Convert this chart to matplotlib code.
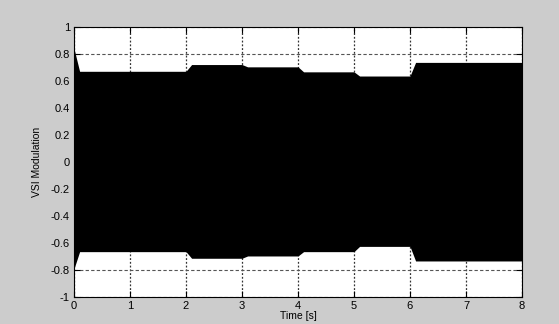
"""VSI modulation index envelope vs. time."""
import matplotlib
matplotlib.use('Agg')
import matplotlib.pyplot as plt

plt.rcParams['font.family'] = ['Liberation Sans', 'DejaVu Sans']

# envelope of the (very fast) modulation signal
t_pts  = [0.0, 0.10, 2.0, 2.10, 3.0, 3.10, 4.0, 4.10, 5.0, 5.10, 6.0, 6.10, 8.0]
upper  = [0.84, 0.672, 0.672, 0.722, 0.722, 0.705, 0.705, 0.668, 0.668, 0.637, 0.637, 0.738, 0.738]
lower  = [-0.79, -0.664, -0.664, -0.713, -0.713, -0.696, -0.696, -0.664, -0.664, -0.625, -0.625, -0.733, -0.733]

x_ticks = [0, 1, 2, 3, 4, 5, 6, 7, 8]
y_ticks = [-1, -0.8, -0.6, -0.4, -0.2, 0, 0.2, 0.4, 0.6, 0.8, 1]
y_labels = ['-1', '-0.8', '-0.6', '-0.4', '-0.2', '0', '0.2', '0.4', '0.6', '0.8', '1']

BG = '#cccccc'

fig = plt.figure(figsize=(5.59, 3.24), dpi=100)
fig.set_facecolor(BG)
ax = fig.add_axes([0.1324, 0.0833, 0.8014, 0.8333])
ax.set_facecolor('white')

ax.fill_between(t_pts, lower, upper, color='black', linewidth=0, zorder=3)

ax.set_xlim(0, 8)
ax.set_ylim(-1, 1)
ax.set_xticks(x_ticks)
ax.set_yticks(y_ticks)
ax.set_yticklabels(y_labels)
ax.xaxis.grid(True, color='#333333', linestyle=(0, (1.5, 1.5)), linewidth=0.9, zorder=1)
ax.yaxis.grid(True, color='#555555', linestyle=(0, (3, 2)), linewidth=0.8, zorder=1)
ax.set_axisbelow(True)

ax.tick_params(direction='in', length=4, width=0.8, labelsize=8, colors='black',
               top=True, right=True, pad=3)
for s in ax.spines.values():
    s.set_color('black')
    s.set_linewidth(0.8)
    s.set_zorder(5)

ax.set_xlabel('Time [s]', fontsize=7.5, labelpad=0)
ax.set_ylabel('VSI Modulation', fontsize=7.5, labelpad=6)

fig.savefig('out.png', dpi=100, facecolor=BG)
